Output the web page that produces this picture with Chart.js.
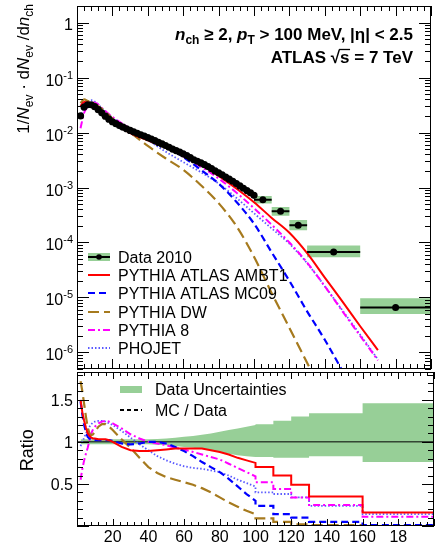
<!DOCTYPE html>
<html>
<head>
<meta charset="utf-8">
<script src="https://cdn.jsdelivr.net/npm/chart.js@4.4.1/dist/chart.umd.min.js"></script>
<style>
  html, body { margin: 0; padding: 0; background: #fff; overflow: hidden; }
  #wrap { position: relative; width: 435px; height: 546px; }
  canvas { position: absolute; left: 0; }
  #top { top: 0; }
  #bottom { top: 372px; }
</style>
</head>
<body>
<div id="wrap">
  <canvas id="top" width="435" height="373"></canvas>
  <canvas id="bottom" width="435" height="174"></canvas>
</div>
<script>
// Charged multiplicity, 1/Nev dNev/dnch, data vs. MC tunes

// data 2010, unit bins (every second bin kept)
const dataN = [2,4,6,8,10,12,14,16,18,20,22,24,26,28,30,32,34,36,38,40,42,44,46,48,50,
               52,54,56,58,60,62,64,66,68,70,72,74,76,78,80,82,84,86,88,90,92,94,96,98,100];
const dataVal = [0.020,0.029,0.032,0.032,0.0295,0.026,0.0228,0.0198,0.0175,0.0157,0.0145,0.0134,0.0125,0.0117,0.0109,
                 0.0103,0.0097,0.0091,0.0086,0.0081,0.0076,0.0071,0.0066,0.0062,0.0058,0.0054,0.0050,0.0047,0.0044,0.0041,
                 0.0038,0.0035,0.0032,0.0030,0.0028,0.0026,0.0024,0.0022,0.0020,0.00185,0.00170,0.00155,0.00142,0.00130,0.00118,
                 0.00107,0.00097,0.00088,0.00080,0.00072];

// data 2010, wide bins at high nch
const wideEdges = [100, 110, 120, 130, 160, 200];
const wideVal = [6.0e-4, 3.7e-4, 2.05e-4, 6.7e-5, 6.6e-6];
const wideErrUp = [0.17, 0.20, 0.25, 0.31, 0.46];
const wideErrLo = [0.15, 0.17, 0.19, 0.20, 0.24];

// MC predictions, upper panel
const mcN = [2,4,6,8,10,15,20,30,40,50,60,70,80,90,100,110,120,130,140,150,160,170];
const mcAmbt1 = [0.030,0.036,0.035,0.034,0.0307,0.0219,0.0157,0.0098,0.0072,0.0053,0.0038,0.0026,0.00163,0.00096,0.00054,0.00028,0.00015,6.4e-5,2.3e-5,8.4e-6,3.0e-6,1.1e-6];
const mcMc09 = [0.0296,0.0348,0.034,0.033,0.030,0.0217,0.0158,0.0106,0.0081,0.0057,0.0036,0.0021,0.00118,0.00055,0.00022,6.6e-5,2.0e-5,5.6e-6,1.7e-6,4.6e-7,1.2e-7,3e-8];
const mcDw = [0.034,0.040,0.0375,0.0346,0.033,0.0255,0.0179,0.0101,0.0057,0.0034,0.0021,0.0011,0.00052,0.0002,5.5e-5,1.2e-5,2.8e-6,6.5e-7,1.5e-7,4e-8,1e-8,2e-9];
const mcPy8 = [0.012,0.0226,0.0298,0.035,0.0348,0.0262,0.0192,0.0119,0.0081,0.0056,0.0037,0.0024,0.00146,0.00081,0.00042,0.00021,0.0001,4.3e-5,1.6e-5,5.6e-6,2.0e-6,7.2e-7];
const mcPhojet = [0.019,0.0305,0.0365,0.0387,0.0366,0.026,0.0188,0.0114,0.0073,0.0045,0.0029,0.0019,0.00118,0.00065,0.00034,0.00018,9.5e-5,4.2e-5,1.6e-5,5.8e-6,2.1e-6,7.5e-7];

// MC / data, lower panel
const ratioN = [2,3,4,5,6,7,8,9,10,12,14,16,18,20,25,30,35,40,45,50,55,60,65,70,75,80,85,90,95,100];
const ratioAmbt1 = [1.50,1.35,1.25,1.17,1.10,1.07,1.05,1.04,1.04,1.03,1.03,1.03,1.02,1.00,0.94,0.90,0.89,0.89,0.90,0.91,0.92,0.92,0.92,0.92,0.90,0.88,0.85,0.81,0.78,0.75];
const ratioMc09 = [1.48,1.32,1.20,1.12,1.06,1.04,1.03,1.02,1.02,1.02,1.02,1.02,1.02,1.01,0.98,0.97,0.98,1.00,1.00,0.98,0.94,0.89,0.83,0.76,0.70,0.64,0.56,0.47,0.38,0.30];
const ratioDw = [1.72,1.60,1.45,1.30,1.17,1.10,1.08,1.09,1.12,1.18,1.21,1.21,1.18,1.14,1.03,0.93,0.81,0.70,0.63,0.58,0.55,0.52,0.49,0.45,0.40,0.34,0.28,0.23,0.18,0.14];
const ratioPy8 = [0.55,0.68,0.78,0.86,0.93,1.02,1.10,1.15,1.18,1.22,1.24,1.25,1.24,1.22,1.16,1.09,1.04,1.00,0.98,0.96,0.93,0.91,0.88,0.85,0.82,0.79,0.74,0.69,0.64,0.59];
const ratioPhojet = [0.95,1.00,1.05,1.10,1.14,1.18,1.21,1.23,1.24,1.25,1.25,1.24,1.22,1.20,1.13,1.05,0.97,0.90,0.83,0.78,0.74,0.71,0.69,0.68,0.66,0.64,0.60,0.55,0.51,0.47];
const wideAmbt1 = [0.70, 0.60, 0.49, 0.35, 0.16];
const wideMc09 = [0.24, 0.14, 0.10, 0.05, 0.01];
const wideDw = [0.09, 0.05, 0.02, 0.01, 0.0];
const widePy8 = [0.52, 0.44, 0.34, 0.25, 0.11];
const widePhojet = [0.40, 0.38, 0.34, 0.24, 0.14];

// relative data uncertainty, lower panel band
const bandUp = [0.03,0.03,0.03,0.03,0.03,0.03,0.03,0.03,0.03,0.03,0.03,0.03,0.03,0.03,0.03,0.03,0.03,0.03,0.035,0.04,0.05,0.06,0.07,0.085,0.10,0.12,0.14,0.16,0.18,0.20];
const bandLo = [0.03,0.03,0.03,0.03,0.03,0.03,0.03,0.03,0.03,0.03,0.03,0.03,0.03,0.03,0.03,0.03,0.03,0.03,0.035,0.04,0.05,0.06,0.07,0.085,0.10,0.12,0.14,0.16,0.17,0.18];
const bandWideUp = [0.21, 0.25, 0.30, 0.34, 0.46];
const bandWideLo = [0.18, 0.19, 0.19, 0.17, 0.24];

// axes
const xMin = 0, xMax = 200, xMajor = 20, xMinor = 4;
const yMin = 5e-7, yMax = 2;
const rMin = 0, rMax = 1.83;
const logExps = [0, -1, -2, -3, -4, -5, -6];
const xTickValues = [20, 40, 60, 80, 100, 120, 140, 160, 180];
const xTickLabels = ['20', '40', '60', '80', '100', '120', '140', '160', '18'];
const rTickValues = [0.5, 1, 1.5];
const rTickLabels = ['0.5', '1', '1.5'];

const font = '"Liberation Sans", Arial, Helvetica, sans-serif';
const green = '#97cf97';

let pts = (xs, ys) => xs.map((x, i) => ({ x: x, y: ys[i] }));

let stepPoints = (edges, vals) => {
    let out = [];
    vals.forEach((v, i) => {
        out.push({ x: edges[i], y: v });
        out.push({ x: edges[i + 1], y: v });
    });
    return out;
}

let styles = [
    { label: 'PYTHIA ATLAS AMBT1', color: '#ff0000', dash: [], width: 2 },
    { label: 'PYTHIA ATLAS MC09', color: '#0000ff', dash: [7, 4], width: 2.2 },
    { label: 'PYTHIA DW', color: '#a67a1e', dash: [11, 5], width: 2.2 },
    { label: 'PYTHIA 8', color: '#ff00ff', dash: [7, 3, 2, 3], width: 2 },
    { label: 'PHOJET', color: '#5a5aff', dash: [1.5, 2], width: 1.8 }
];

let lineSet = (style, data, order, smooth) => ({
    label: style.label,
    data: data,
    borderColor: style.color,
    borderDash: style.dash,
    borderWidth: style.width,
    pointRadius: 0,
    fill: false,
    clip: 0,
    order: order,
    cubicInterpolationMode: smooth ? 'monotone' : 'default',
    tension: 0
});

// draw a row of text pieces [text, font, dy]; returns x of each piece start plus the end
let drawRuns = (ctx, runs, x, y, align) => {
    let widths = runs.map(r => { ctx.font = r[1]; return ctx.measureText(r[0]).width; });
    let total = widths.reduce((s, w) => s + w, 0);
    let cx = align === 'right' ? x - total : (align === 'center' ? x - total / 2 : x);
    let starts = [];
    ctx.textAlign = 'left';
    ctx.textBaseline = 'alphabetic';
    runs.forEach((r, i) => {
        ctx.font = r[1];
        starts.push(cx);
        ctx.fillText(r[0], cx, y + (r[2] || 0));
        cx += widths[i];
    });
    starts.push(cx);
    return starts;
}

let strokeSegs = (ctx, segs) => {
    ctx.beginPath();
    segs.forEach(s => { ctx.moveTo(s[0], s[1]); ctx.lineTo(s[2], s[3]); });
    ctx.stroke();
}

// ROOT style frame with inward ticks along x
let xTicks = (a, xs, major, minor) => {
    let segs = [];
    for (let v = xMin; v <= xMax; v += xMinor) {
        let px = Math.round(xs.getPixelForValue(v)) + 0.5;
        let len = v % xMajor === 0 ? major : minor;
        segs.push([px, a.top, px, a.top + len]);
        segs.push([px, a.bottom, px, a.bottom - len]);
    }
    return segs;
}

let yTickSegs = (a, py, len) => [[a.left, py, a.left + len, py], [a.right, py, a.right - len, py]];

let topDecor = {
    id: 'topDecor',
    afterDraw: chart => {
        let ctx = chart.ctx, a = chart.chartArea, xs = chart.scales.x, ys = chart.scales.y;
        ctx.save();
        ctx.strokeStyle = '#000';
        ctx.fillStyle = '#000';
        ctx.lineWidth = 1;
        ctx.strokeRect(a.left + 0.5, a.top + 0.5, a.right - a.left - 1, a.bottom - a.top - 1);

        let segs = xTicks(a, xs, 10, 5);
        for (let e = -7; e <= 0; e++) {
            for (let k = 1; k <= 9; k++) {
                let v = k * Math.pow(10, e);
                if (v < yMin || v > yMax) continue;
                let py = Math.round(ys.getPixelForValue(v)) + 0.5;
                segs = segs.concat(yTickSegs(a, py, k === 1 ? 12 : 6));
            }
        }
        strokeSegs(ctx, segs);

        // decade labels
        logExps.forEach(e => {
            let py = ys.getPixelForValue(Math.pow(10, e));
            if (e === 0) {
                drawRuns(ctx, [['1', '16px ' + font]], 73, py + 7, 'right');
            } else {
                drawRuns(ctx, [['10', '16px ' + font], [String(e), '11px ' + font, -7]], 73, py + 8, 'right');
            }
        });

        // y title, rotated
        ctx.save();
        ctx.translate(29, 4);
        ctx.rotate(-Math.PI / 2);
        let reg = '17px ' + font, it = 'italic 17px ' + font, sub = '12px ' + font;
        drawRuns(ctx, [['1/', reg], ['N', it], ['ev', sub, 4], [' \u00b7 d', reg], ['N', it], ['ev', sub, 4],
                       [' /d', reg], ['n', it], ['ch', sub, 4]], 0, 0, 'right');
        ctx.restore();

        // selection and experiment labels
        let b = 'bold 17px ' + font, bi = 'bold italic 17px ' + font, bs = 'bold 12px ' + font;
        drawRuns(ctx, [['n', bi], ['ch', bs, 4], [' \u2265 2, ', b], ['p', bi], ['T', bs, 4],
                       [' > 100 MeV, |\u03b7| < 2.5', b]], 413, 40, 'right');
        let p = drawRuns(ctx, [['ATLAS ', b], ['\u221a', b], ['s', b], [' = 7 TeV', b]], 413, 63, 'right');
        ctx.lineWidth = 1.3;
        strokeSegs(ctx, [[p[2] - 1, 49.5, p[3] + 0.5, 49.5]]);

        // legend
        let rows = [257, 275, 293, 312, 330, 348];
        ctx.font = '16px ' + font;
        ctx.fillStyle = green;
        ctx.fillRect(88, rows[0] - 4, 22, 8);
        ctx.fillStyle = '#000';
        ctx.lineWidth = 2;
        strokeSegs(ctx, [[88, rows[0], 110, rows[0]]]);
        ctx.beginPath();
        ctx.arc(99, rows[0], 2.8, 0, Math.PI * 2);
        ctx.fill();
        drawRuns(ctx, [['Data 2010', '16px ' + font]], 118, rows[0] + 6, 'left');
        styles.forEach((s, i) => {
            let y = rows[i + 1];
            ctx.strokeStyle = s.color;
            ctx.lineWidth = s.width;
            ctx.setLineDash(s.dash);
            strokeSegs(ctx, [[88, y, 110, y]]);
            ctx.setLineDash([]);
            ctx.fillStyle = '#000';
            drawRuns(ctx, [[s.label, '16px ' + font]], 118, y + 6, 'left');
        });
        ctx.restore();
    }
};

let bottomDecor = {
    id: 'bottomDecor',
    afterDraw: chart => {
        let ctx = chart.ctx, a = chart.chartArea, xs = chart.scales.x, ys = chart.scales.y;
        ctx.save();
        ctx.strokeStyle = '#000';
        ctx.fillStyle = '#000';
        ctx.lineWidth = 1;
        ctx.strokeRect(a.left + 0.5, a.top + 0.5, a.right - a.left - 1, a.bottom - a.top - 1);

        let segs = xTicks(a, xs, 7, 4);
        for (let i = 0; i <= 18; i++) {
            let v = i / 10;
            if (v < rMin || v > rMax) continue;
            let py = Math.round(ys.getPixelForValue(v)) + 0.5;
            segs = segs.concat(yTickSegs(a, py, i % 5 === 0 ? 12 : 6));
        }
        strokeSegs(ctx, segs);

        rTickValues.forEach((v, i) => {
            drawRuns(ctx, [[rTickLabels[i], '16px ' + font]], 73, ys.getPixelForValue(v) + 6, 'right');
        });
        xTickValues.forEach((v, i) => {
            drawRuns(ctx, [[xTickLabels[i], '16px ' + font]], xs.getPixelForValue(v), a.bottom + 16, 'center');
        });

        ctx.save();
        ctx.translate(33, ys.getPixelForValue(0.9));
        ctx.rotate(-Math.PI / 2);
        drawRuns(ctx, [['Ratio', '18px ' + font]], 0, 0, 'center');
        ctx.restore();

        // legend
        ctx.fillStyle = green;
        ctx.fillRect(120, 14, 22, 7);
        ctx.fillStyle = '#000';
        ctx.lineWidth = 2;
        ctx.setLineDash([4, 3]);
        strokeSegs(ctx, [[120, 38, 142, 38]]);
        ctx.setLineDash([]);
        drawRuns(ctx, [['Data Uncertainties', '16px ' + font]], 155, 23, 'left');
        drawRuns(ctx, [['MC / Data', '16px ' + font]], 155, 44, 'left');
        ctx.restore();
    }
};

let baseOptions = (pad, yScale) => ({
    responsive: false,
    animation: false,
    events: [],
    layout: { padding: pad },
    scales: {
        x: { type: 'linear', min: xMin, max: xMax, display: false },
        y: yScale
    },
    plugins: { legend: { display: false }, tooltip: { enabled: false } }
});

// upper panel
let boxUp = stepPoints(wideEdges, wideVal.map((v, i) => v * (1 + wideErrUp[i])));
let boxLo = stepPoints(wideEdges, wideVal.map((v, i) => v * (1 - wideErrLo[i])));
let wideCentres = wideVal.map((v, i) => ({ x: (wideEdges[i] + wideEdges[i + 1]) / 2, y: v }));
let wideBars = [];
wideVal.forEach((v, i) => {
    wideBars.push({ x: wideEdges[i], y: v }, { x: wideEdges[i + 1], y: v }, { x: wideEdges[i + 1], y: null });
});

new Chart(document.getElementById('top'), {
    type: 'line',
    data: {
        datasets: [
            { label: 'Data 2010', data: pts(dataN, dataVal), showLine: false, pointRadius: 3.6,
              pointBackgroundColor: '#000', pointBorderWidth: 0, order: 0, clip: 0 },
            { data: wideCentres, showLine: false, pointRadius: 3.5, pointBackgroundColor: '#000',
              pointBorderWidth: 0, order: 0, clip: 0 },
            { data: wideBars, borderColor: '#000', borderWidth: 2, pointRadius: 0, spanGaps: false, order: 1, clip: 0 },
            lineSet(styles[0], pts(mcN, mcAmbt1), 2, true),
            lineSet(styles[1], pts(mcN, mcMc09), 2, true),
            lineSet(styles[2], pts(mcN, mcDw), 2, true),
            lineSet(styles[3], pts(mcN, mcPy8), 2, true),
            lineSet(styles[4], pts(mcN, mcPhojet), 2, true),
            { data: boxUp, borderWidth: 0, pointRadius: 0, fill: false, order: 5 },
            { data: boxLo, borderWidth: 0, pointRadius: 0, fill: '-1', backgroundColor: green, order: 5 }
        ]
    },
    options: baseOptions({ left: 77, top: 6, right: 1, bottom: 1 },
                         { type: 'logarithmic', min: yMin, max: yMax, display: false }),
    plugins: [topDecor]
});

// lower panel
let ratioSet = (vals, wide) => pts(ratioN, vals).concat(stepPoints(wideEdges, wide));

new Chart(document.getElementById('bottom'), {
    type: 'line',
    data: {
        datasets: [
            lineSet(styles[0], ratioSet(ratioAmbt1, wideAmbt1), 1, false),
            lineSet(styles[1], ratioSet(ratioMc09, wideMc09), 1, false),
            lineSet(styles[2], ratioSet(ratioDw, wideDw), 1, false),
            lineSet(styles[3], ratioSet(ratioPy8, widePy8), 1, false),
            lineSet(styles[4], ratioSet(ratioPhojet, widePhojet), 1, false),
            { data: [{ x: xMin, y: 1 }, { x: xMax, y: 1 }], borderColor: '#000', borderWidth: 1,
              pointRadius: 0, order: 2 },
            { data: ratioSet(bandUp.map(u => 1 + u), bandWideUp.map(u => 1 + u)), borderWidth: 0,
              pointRadius: 0, fill: false, order: 3 },
            { data: ratioSet(bandLo.map(u => 1 - u), bandWideLo.map(u => 1 - u)), borderWidth: 0,
              pointRadius: 0, fill: '-1', backgroundColor: green, order: 3 }
        ]
    },
    options: baseOptions({ left: 77, top: 0, right: 1, bottom: 20 },
                         { type: 'linear', min: rMin, max: rMax, display: false }),
    plugins: [bottomDecor]
});
</script>
</body>
</html>
